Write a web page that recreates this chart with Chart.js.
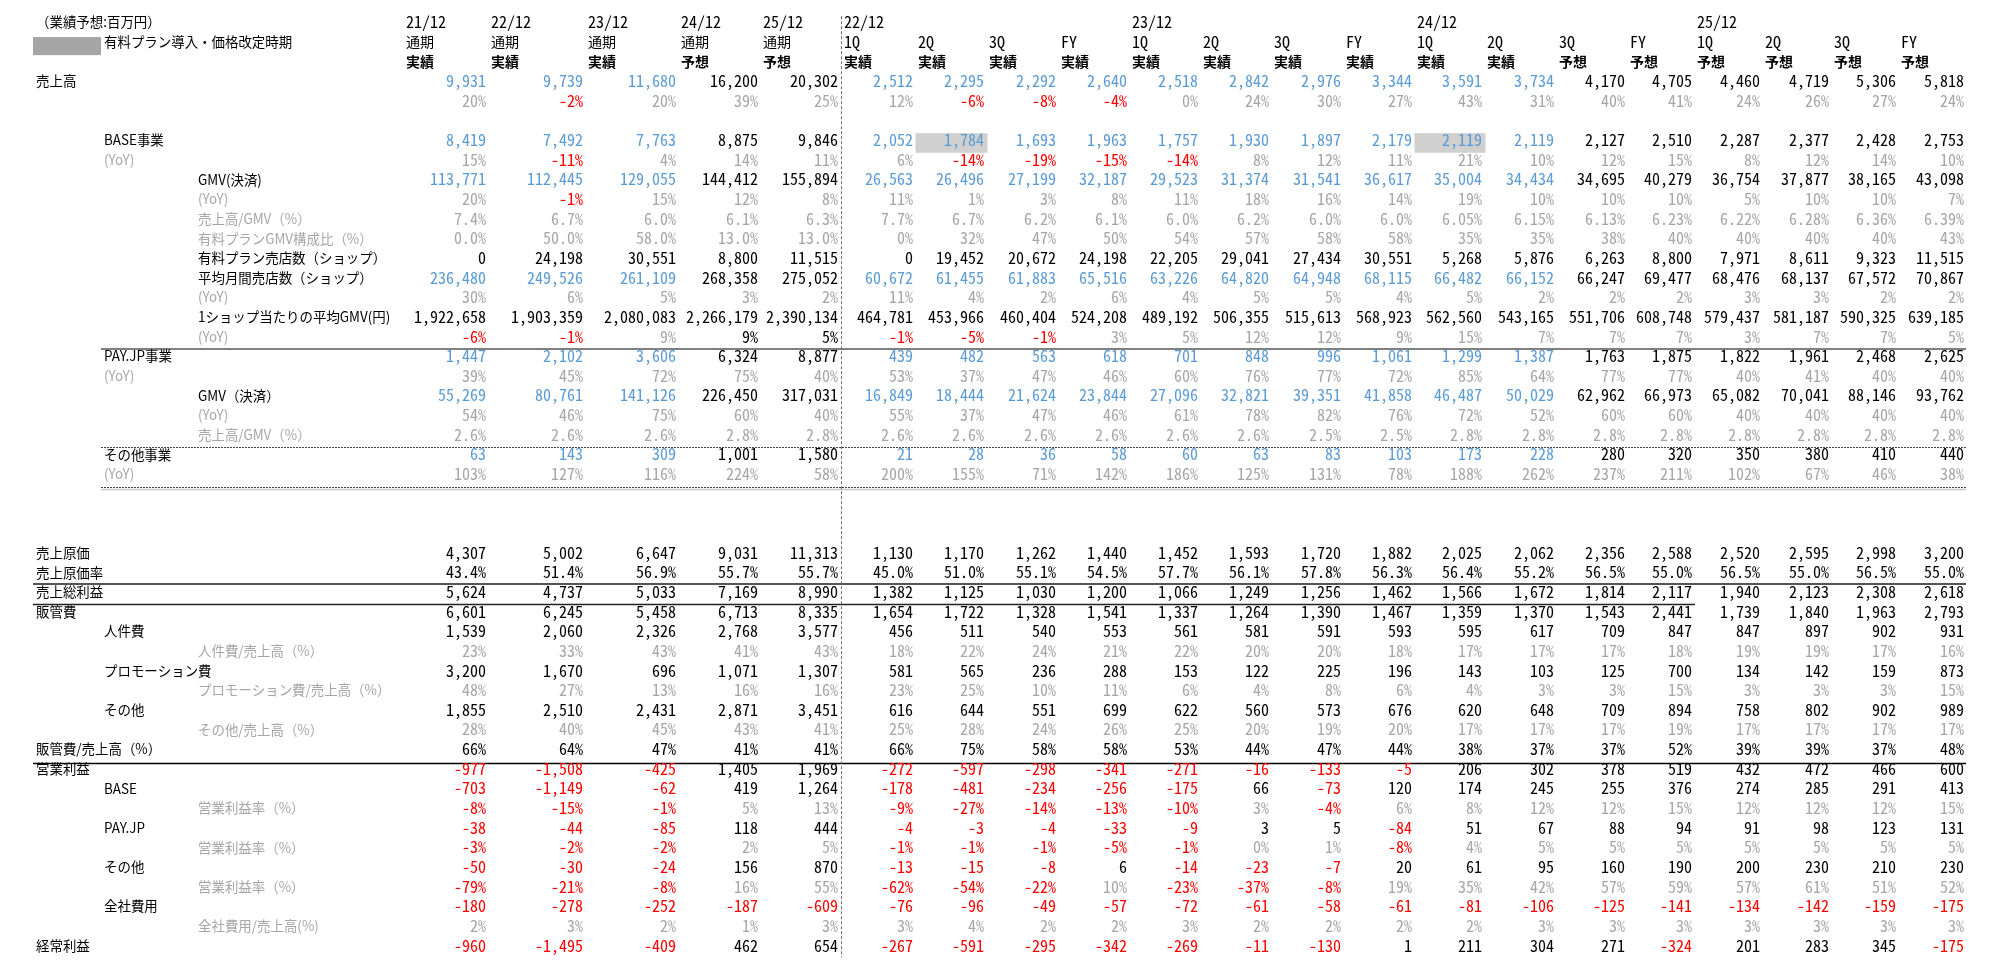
<!DOCTYPE html>
<html><head><meta charset="utf-8">
<script src="https://cdn.jsdelivr.net/npm/chart.js@4.4.1/dist/chart.umd.min.js"></script>
<style>html,body{margin:0;padding:0;background:#fff;overflow:hidden}canvas{display:block}</style>
</head><body>
<canvas id="c" width="2000" height="974"></canvas>
<script>
// ================= DATA =================
const unitNote = '（業績予想:百万円）';
const legendNote = '有料プラン導入・価格改定時期';
const annualPeriods = ['21/12','22/12','23/12','24/12','25/12'];
const annualStatus  = ['実績','実績','実績','予想','予想'];
const quarterYears  = ['22/12','23/12','24/12','25/12'];
const quarterNames  = ['1Q','2Q','3Q','FY'];
const quarterStatus = ['実績','実績','実績','実績','実績','実績','実績','実績','実績','実績','予想','予想','予想','予想','予想','予想'];
const priceRevisionCells = ['22/12 2Q','24/12 1Q'];   // highlighted BASE事業 cells

const sales            = [9931,9739,11680,16200,20302, 2512,2295,2292,2640,2518,2842,2976,3344,3591,3734,4170,4705,4460,4719,5306,5818];
const salesYoY         = [20,-2,20,39,25, 12,-6,-8,-4,0,24,30,27,43,31,40,41,24,26,27,24];
const baseSales        = [8419,7492,7763,8875,9846, 2052,1784,1693,1963,1757,1930,1897,2179,2119,2119,2127,2510,2287,2377,2428,2753];
const baseYoY          = [15,-11,4,14,11, 6,-14,-19,-15,-14,8,12,11,21,10,12,15,8,12,14,10];
const baseGmv          = [113771,112445,129055,144412,155894, 26563,26496,27199,32187,29523,31374,31541,36617,35004,34434,34695,40279,36754,37877,38165,43098];
const baseGmvYoY       = [20,-1,15,12,8, 11,1,3,8,11,18,16,14,19,10,10,10,5,10,10,7];
const baseTakeRate     = [7.4,6.7,6.0,6.1,6.3, 7.7,6.7,6.2,6.1,6.0,6.2,6.0,6.0,6.05,6.15,6.13,6.23,6.22,6.28,6.36,6.39];
const paidPlanGmvShare = [0.0,50.0,58.0,13.0,13.0, 0,32,47,50,54,57,58,58,35,35,38,40,40,40,40,43];
const paidPlanShops    = [0,24198,30551,8800,11515, 0,19452,20672,24198,22205,29041,27434,30551,5268,5876,6263,8800,7971,8611,9323,11515];
const avgMonthlyShops  = [236480,249526,261109,268358,275052, 60672,61455,61883,65516,63226,64820,64948,68115,66482,66152,66247,69477,68476,68137,67572,70867];
const avgShopsYoY      = [30,6,5,3,2, 11,4,2,6,4,5,5,4,5,2,2,2,3,3,2,2];
const gmvPerShop       = [1922658,1903359,2080083,2266179,2390134, 464781,453966,460404,524208,489192,506355,515613,568923,562560,543165,551706,608748,579437,581187,590325,639185];
const gmvPerShopYoY    = [-6,-1,9,9,5, -1,-5,-1,3,5,12,12,9,15,7,7,7,3,7,7,5];
const payjpSales       = [1447,2102,3606,6324,8877, 439,482,563,618,701,848,996,1061,1299,1387,1763,1875,1822,1961,2468,2625];
const payjpYoY         = [39,45,72,75,40, 53,37,47,46,60,76,77,72,85,64,77,77,40,41,40,40];
const payjpGmv         = [55269,80761,141126,226450,317031, 16849,18444,21624,23844,27096,32821,39351,41858,46487,50029,62962,66973,65082,70041,88146,93762];
const payjpGmvYoY      = [54,46,75,60,40, 55,37,47,46,61,78,82,76,72,52,60,60,40,40,40,40];
const payjpTakeRate    = [2.6,2.6,2.6,2.8,2.8, 2.6,2.6,2.6,2.6,2.6,2.6,2.5,2.5,2.8,2.8,2.8,2.8,2.8,2.8,2.8,2.8];
const otherSales       = [63,143,309,1001,1580, 21,28,36,58,60,63,83,103,173,228,280,320,350,380,410,440];
const otherYoY         = [103,127,116,224,58, 200,155,71,142,186,125,131,78,188,262,237,211,102,67,46,38];
const cogs             = [4307,5002,6647,9031,11313, 1130,1170,1262,1440,1452,1593,1720,1882,2025,2062,2356,2588,2520,2595,2998,3200];
const cogsRatio        = [43.4,51.4,56.9,55.7,55.7, 45.0,51.0,55.1,54.5,57.7,56.1,57.8,56.3,56.4,55.2,56.5,55.0,56.5,55.0,56.5,55.0];
const grossProfit      = [5624,4737,5033,7169,8990, 1382,1125,1030,1200,1066,1249,1256,1462,1566,1672,1814,2117,1940,2123,2308,2618];
const sga              = [6601,6245,5458,6713,8335, 1654,1722,1328,1541,1337,1264,1390,1467,1359,1370,1543,2441,1739,1840,1963,2793];
const personnel        = [1539,2060,2326,2768,3577, 456,511,540,553,561,581,591,593,595,617,709,847,847,897,902,931];
const personnelRatio   = [23,33,43,41,43, 18,22,24,21,22,20,20,18,17,17,17,18,19,19,17,16];
const promotion        = [3200,1670,696,1071,1307, 581,565,236,288,153,122,225,196,143,103,125,700,134,142,159,873];
const promotionRatio   = [48,27,13,16,16, 23,25,10,11,6,4,8,6,4,3,3,15,3,3,3,15];
const otherSga         = [1855,2510,2431,2871,3451, 616,644,551,699,622,560,573,676,620,648,709,894,758,802,902,989];
const otherSgaRatio    = [28,40,45,43,41, 25,28,24,26,25,20,19,20,17,17,17,19,17,17,17,17];
const sgaRatio         = [66,64,47,41,41, 66,75,58,58,53,44,47,44,38,37,37,52,39,39,37,48];
const opProfit         = [-977,-1508,-425,1405,1969, -272,-597,-298,-341,-271,-16,-133,-5,206,302,378,519,432,472,466,600];
const opBase           = [-703,-1149,-62,419,1264, -178,-481,-234,-256,-175,66,-73,120,174,245,255,376,274,285,291,413];
const opBaseMargin     = [-8,-15,-1,5,13, -9,-27,-14,-13,-10,3,-4,6,8,12,12,15,12,12,12,15];
const opPayjp          = [-38,-44,-85,118,444, -4,-3,-4,-33,-9,3,5,-84,51,67,88,94,91,98,123,131];
const opPayjpMargin    = [-3,-2,-2,2,5, -1,-1,-1,-5,-1,0,1,-8,4,5,5,5,5,5,5,5];
const opOther          = [-50,-30,-24,156,870, -13,-15,-8,6,-14,-23,-7,20,61,95,160,190,200,230,210,230];
const opOtherMargin    = [-79,-21,-8,16,55, -62,-54,-22,10,-23,-37,-8,19,35,42,57,59,57,61,51,52];
const corporateCost    = [-180,-278,-252,-187,-609, -76,-96,-49,-57,-72,-61,-58,-61,-81,-106,-125,-141,-134,-142,-159,-175];
const corporateRatio   = [2,3,2,1,3, 3,4,2,2,3,2,2,2,2,3,3,3,3,3,3,3];
const ordinaryProfit   = [-960,-1495,-409,462,654, -267,-591,-295,-342,-269,-11,-130,1,211,304,271,-324,201,283,345,-175];

// ================= LAYOUT / STYLE =================
const LAYOUT = {
  colLeft:  [401,486,583,676,758,839,913,984,1056,1127,1198,1269,1341,1412,1482,1554,1625,1692,1760,1829,1896],
  colRight: [486,583,676,758,838,913,984,1056,1127,1198,1269,1341,1412,1482,1554,1625,1692,1760,1829,1896,1964],
  indent: [36,104,198],
  noteX: 36, boxX0: 33, boxX1: 101,
  divider: 841,
  ruleLeft: 33, ruleLeftInner: 101, ruleRight: 1966, grossRuleRight: 1695,
  rows: 48, padTop: 12.3, padBottom: 18.7
};
const STYLE = { blue:'#5b9bd5', gray:'#a6a6a6', red:'#ff0000', black:'#000000',
  highlight:'#d0d0d0', legendBox:'#a6a6a6' };
const blackExceptions = { 16:[3,4] };
const RULES = [
  {at:16.65, from:'inner', to:'right', color:'#808080', w:2},
  {at:21.64, from:'inner', to:'right', color:'#444', w:1, dash:[2,1]},
  {at:23.66, from:'inner', to:'right', color:'#444', w:1, dash:[2,1]},
  {at:23.74, from:'inner', to:'right', color:'#c8c8c8', w:1.5},
  {at:28.62, from:'outer', to:'right', color:'#555', w:2},
  {at:29.63, from:'outer', to:'gross', color:'#222', w:1.5},
  {at:37.69, from:'outer', to:'right', color:'#000', w:1.5}
];

function fontAvailable(fam){
  const c = document.createElement('canvas').getContext('2d');
  const t = '0123456789,%-abcXYZ';
  let diff = false;
  ['serif','sans-serif','monospace'].forEach(g=>{
    c.font = '16px ' + g; const a = c.measureText(t).width;
    c.font = '16px "' + fam + '", ' + g; const b = c.measureText(t).width;
    if (a !== b) diff = true;
  });
  return diff;
}
const NUM_FONT = fontAvailable('Noto Sans Mono CJK JP') ? '16px "Noto Sans Mono CJK JP"' : '13.5px "Liberation Mono"';
const JP_FONT = '14px "Noto Sans CJK JP"';
const JP_BOLD = 'bold 14px "Noto Sans CJK JP"';
const JP_SX = 0.96;

// ================= TABLE =================
const columnIds = annualPeriods.slice();
quarterYears.forEach(y => quarterNames.forEach(q => columnIds.push(y + ' ' + q)));
const isActual = annualStatus.concat(quarterStatus).map(s => s === '実績');

const takeDec = c => (c >= 13 ? 2 : 1);
const shareDec = c => (c < 5 ? 1 : 0);
const body = [
  ['売上高',0,sales,'n','blue'],
  ['',1,salesYoY,'p0','gray'],
  null,
  ['BASE事業',1,baseSales,'n','blue'],
  ['(YoY)',1,baseYoY,'p0','gray'],
  ['GMV(決済)',2,baseGmv,'n','blue'],
  ['(YoY)',2,baseGmvYoY,'p0','gray'],
  ['売上高/GMV（%）',2,baseTakeRate,takeDec,'gray'],
  ['有料プランGMV構成比（%）',2,paidPlanGmvShare,shareDec,'gray'],
  ['有料プラン売店数（ショップ）',2,paidPlanShops,'n','black'],
  ['平均月間売店数（ショップ）',2,avgMonthlyShops,'n','blue'],
  ['(YoY)',2,avgShopsYoY,'p0','gray'],
  ['1ショップ当たりの平均GMV(円)',2,gmvPerShop,'n','black'],
  ['(YoY)',2,gmvPerShopYoY,'p0','gray'],
  ['PAY.JP事業',1,payjpSales,'n','blue'],
  ['(YoY)',1,payjpYoY,'p0','gray'],
  ['GMV（決済）',2,payjpGmv,'n','blue'],
  ['(YoY)',2,payjpGmvYoY,'p0','gray'],
  ['売上高/GMV（%）',2,payjpTakeRate,'p1','gray'],
  ['その他事業',1,otherSales,'n','blue'],
  ['(YoY)',1,otherYoY,'p0','gray'],
  null, null, null,
  ['売上原価',0,cogs,'n','black'],
  ['売上原価率',0,cogsRatio,'p1','black'],
  ['売上総利益',0,grossProfit,'n','black'],
  ['販管費',0,sga,'n','black'],
  ['人件費',1,personnel,'n','black'],
  ['人件費/売上高（%）',2,personnelRatio,'p0','gray'],
  ['プロモーション費',1,promotion,'n','black'],
  ['プロモーション費/売上高（%）',2,promotionRatio,'p0','gray'],
  ['その他',1,otherSga,'n','black'],
  ['その他/売上高（%）',2,otherSgaRatio,'p0','gray'],
  ['販管費/売上高（%）',0,sgaRatio,'p0','black'],
  ['営業利益',0,opProfit,'n','black'],
  ['BASE',1,opBase,'n','black'],
  ['営業利益率（%）',2,opBaseMargin,'p0','gray'],
  ['PAY.JP',1,opPayjp,'n','black'],
  ['営業利益率（%）',2,opPayjpMargin,'p0','gray'],
  ['その他',1,opOther,'n','black'],
  ['営業利益率（%）',2,opOtherMargin,'p0','gray'],
  ['全社費用',1,corporateCost,'n','black'],
  ['全社費用/売上高(%)',2,corporateRatio,'p0','gray'],
  ['経常利益',0,ordinaryProfit,'n','black']
];
const FIRST_BODY_ROW = 3;

function fmt(v, f, c){
  if (f === 'n') return v.toLocaleString('en-US');
  if (f === 'p0') return v.toFixed(0) + '%';
  if (f === 'p1') return v.toFixed(1) + '%';
  if (typeof f === 'function') return v.toFixed(f(c)) + '%';
  return String(v);
}
function colorOf(v, kind, c, r){
  if (blackExceptions[r] && blackExceptions[r].includes(c)) return STYLE.black;
  if (kind === 'blue') return isActual[c] ? STYLE.blue : STYLE.black;
  if (v < 0) return STYLE.red;
  return kind === 'gray' ? STYLE.gray : STYLE.black;
}

const rowLabels = [];
const datasets = [];
body.forEach((row, i) => {
  if (!row) return;
  const r = FIRST_BODY_ROW + i;
  const [label, lv, vals, f, kind] = row;
  rowLabels.push({r, label, lv, color: kind === 'gray' ? STYLE.gray : STYLE.black});
  datasets.push({
    label: label || ('row' + r),
    data: vals.map((v, c) => ({x: LAYOUT.colRight[c], y: r})),
    cellText: vals.map((v, c) => fmt(v, f, c)),
    cellColor: vals.map((v, c) => colorOf(v, kind, c, r)),
    pointRadius: 0, showLine: false
  });
});

function jpText(ctx, text, x, y, font, color, sx){
  ctx.save();
  ctx.font = font; ctx.fillStyle = color;
  ctx.textAlign = 'left'; ctx.textBaseline = 'middle';
  ctx.translate(x, y); ctx.scale(sx, 1);
  ctx.fillText(text, 0, 0);
  ctx.restore();
}

const tablePlugin = {
  id: 'tableText',
  beforeDatasetsDraw(chart){
    const {ctx, scales:{x, y}} = chart;
    ctx.save();
    // highlighted cells (price revision timing)
    ctx.fillStyle = STYLE.highlight;
    priceRevisionCells.forEach(id => {
      const c = columnIds.indexOf(id);
      const x0 = x.getPixelForValue(LAYOUT.colLeft[c] + 2.5), x1 = x.getPixelForValue(LAYOUT.colRight[c] + 3.5);
      const y0 = y.getPixelForValue(6 - 0.35), y1 = y.getPixelForValue(6 + 0.65);
      ctx.fillRect(x0, y0, x1 - x0, y1 - y0);
    });
    // legend box
    ctx.fillStyle = STYLE.legendBox;
    const bx0 = x.getPixelForValue(LAYOUT.boxX0), bx1 = x.getPixelForValue(LAYOUT.boxX1);
    const by0 = y.getPixelForValue(1 - 0.24), by1 = y.getPixelForValue(1 + 0.68);
    ctx.fillRect(bx0, by0, bx1 - bx0, by1 - by0);
    // horizontal rules
    RULES.forEach(rule => {
      const yy = Math.round(y.getPixelForValue(rule.at)) + (rule.w % 2 ? 0.5 : 0);
      const xa = x.getPixelForValue(rule.from === 'inner' ? LAYOUT.ruleLeftInner : LAYOUT.ruleLeft);
      const xb = x.getPixelForValue(rule.to === 'gross' ? LAYOUT.grossRuleRight : LAYOUT.ruleRight);
      ctx.beginPath();
      ctx.strokeStyle = rule.color; ctx.lineWidth = rule.w;
      ctx.setLineDash(rule.dash || []);
      ctx.moveTo(xa, yy); ctx.lineTo(xb, yy); ctx.stroke();
    });
    // vertical divider between annual and quarterly blocks
    ctx.beginPath();
    ctx.setLineDash([3, 2]);
    ctx.strokeStyle = '#707070'; ctx.lineWidth = 1;
    const dx = Math.round(x.getPixelForValue(LAYOUT.divider)) + 0.5;
    ctx.moveTo(dx, y.getPixelForValue(-0.3)); ctx.lineTo(dx, y.getPixelForValue(47.6));
    ctx.stroke();
    ctx.restore();
  },
  afterDatasetsDraw(chart){
    const {ctx, scales:{x, y}} = chart;
    ctx.save();
    // header
    jpText(ctx, unitNote, x.getPixelForValue(LAYOUT.noteX), y.getPixelForValue(0), JP_FONT, STYLE.black, JP_SX);
    jpText(ctx, legendNote, x.getPixelForValue(LAYOUT.indent[1]), y.getPixelForValue(1), JP_FONT, STYLE.black, JP_SX);
    columnIds.forEach((id, c) => {
      const hx = x.getPixelForValue(LAYOUT.colLeft[c] + 5);
      let top = null, mid;
      if (c < 5) { top = annualPeriods[c]; mid = '通期'; }
      else {
        const q = (c - 5) % 4, yi = Math.floor((c - 5) / 4);
        if (q === 0) top = quarterYears[yi];
        mid = quarterNames[q];
      }
      const st = c < 5 ? annualStatus[c] : quarterStatus[c - 5];
      ctx.font = NUM_FONT; ctx.fillStyle = STYLE.black; ctx.textAlign = 'left'; ctx.textBaseline = 'middle';
      if (top) ctx.fillText(top, hx, y.getPixelForValue(0));
      if (c < 5) jpText(ctx, mid, hx, y.getPixelForValue(1), JP_FONT, STYLE.black, 1);
      else { ctx.font = NUM_FONT; ctx.fillText(mid, hx, y.getPixelForValue(1)); }
      jpText(ctx, st, hx, y.getPixelForValue(2), JP_BOLD, STYLE.black, 1);
    });
    // row labels
    rowLabels.forEach(l => {
      if (l.label) jpText(ctx, l.label, x.getPixelForValue(LAYOUT.indent[l.lv]), y.getPixelForValue(l.r), JP_FONT, l.color, JP_SX);
    });
    // cells, placed at the points computed by the scales
    ctx.font = NUM_FONT; ctx.textAlign = 'right'; ctx.textBaseline = 'middle';
    chart.data.datasets.forEach((ds, di) => {
      const meta = chart.getDatasetMeta(di);
      meta.data.forEach((pt, i) => {
        ctx.fillStyle = ds.cellColor[i];
        ctx.fillText(ds.cellText[i], pt.x, pt.y);
      });
    });
    ctx.restore();
  }
};

new Chart(document.getElementById('c'), {
  type: 'scatter',
  data: { datasets },
  options: {
    responsive: false, animation: false, events: [],
    layout: { padding: { left: 0, right: 0, top: LAYOUT.padTop, bottom: LAYOUT.padBottom } },
    plugins: { legend: { display: false }, tooltip: { enabled: false }, title: { display: false } },
    scales: {
      x: { type: 'linear', min: 0, max: 2000, display: false },
      y: { type: 'linear', min: -0.5, max: LAYOUT.rows - 0.5, reverse: true, display: false }
    },
    elements: { point: { radius: 0 } }
  },
  plugins: [tablePlugin]
});
</script>
</body></html>
